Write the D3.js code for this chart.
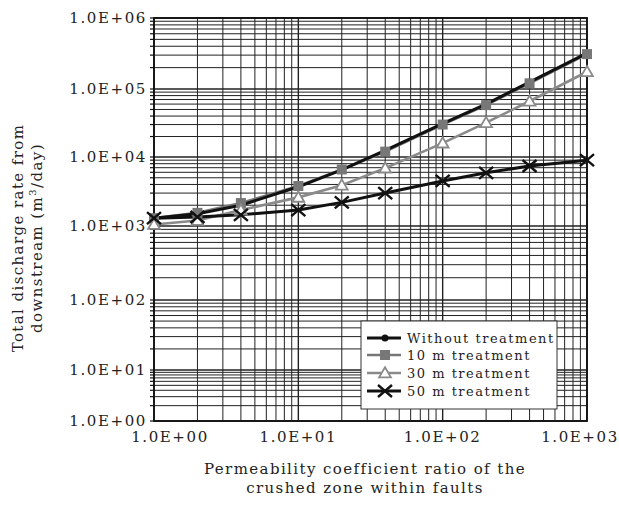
<!DOCTYPE html>
<html>
<head>
<meta charset="utf-8">
<script src="https://cdn.jsdelivr.net/npm/d3@7"></script>
<style>
  body { margin: 0; background: #fff; }
  text { font-family: "DejaVu Serif", "Liberation Serif", serif; fill: #222; }
</style>
</head>
<body>
<svg id="chart" width="619" height="505"></svg>
<script>
// valori
const ratios = [1, 2, 4, 10, 20, 40, 100, 200, 400, 1000];
const withoutTreatment = [1300, 1500, 2000, 3700, 6500, 12500, 31000, 60000, 125000, 320000];
const treat10 = [1300, 1550, 2150, 3800, 6600, 12000, 30000, 58000, 120000, 310000];
const treat30 = [1050, 1200, 1700, 2600, 3900, 6900, 16000, 32000, 66000, 175000];
const treat50 = [1300, 1350, 1450, 1700, 2200, 3000, 4500, 5900, 7400, 9000];
const xTicks = [1, 10, 100, 1000];
const yTicks = [1, 10, 100, 1000, 1e4, 1e5, 1e6];
const seriesNames = ["Without treatment", "10 m treatment", "30 m treatment", "50 m treatment"];

const svg = d3.select("#chart");
const pLeft = 154, pRight = 587, pTop = 18, pBottom = 421;

const x = d3.scaleLog().domain([1, 1000]).range([pLeft, pRight]);
// la scansione originale ha decadi non uniformi: scala a tratti
const y = d3.scaleLog().domain(yTicks).range([421, 370, 300, 226, 157, 89, pTop]);

function fmt(v) {
    const e = Math.round(Math.log10(v));
    return "1.0E+" + (e < 10 ? "0" + e : e);
}

function minors(lo, hi) {
    const out = [];
    for (let d = lo; d < hi; d *= 10)
        for (let k = 1; k < 10; k++) out.push(d * k);
    out.push(hi);
    return out;
}

const grid = svg.append("g");
grid.selectAll(".vg")
    .data(minors(1, 1000))
    .enter().append("line")
    .attr("x1", d => x(d)).attr("x2", d => x(d))
    .attr("y1", pTop).attr("y2", pBottom)
    .attr("stroke", "#222")
    .attr("stroke-width", d => xTicks.includes(d) ? 1.4 : 1);
grid.selectAll(".hg")
    .data(minors(1, 1e6))
    .enter().append("line")
    .attr("x1", pLeft).attr("x2", pRight)
    .attr("y1", d => y(d)).attr("y2", d => y(d))
    .attr("stroke", "#222")
    .attr("stroke-width", d => yTicks.includes(d) ? 1.4 : 1);

// tacche a sinistra
svg.append("g").selectAll("line")
    .data(minors(1, 1e6))
    .enter().append("line")
    .attr("x1", pLeft - 4).attr("x2", pLeft)
    .attr("y1", d => y(d)).attr("y2", d => y(d))
    .attr("stroke", "#111").attr("stroke-width", 1.2);

svg.append("rect")
    .attr("x", pLeft).attr("y", pTop)
    .attr("width", pRight - pLeft).attr("height", pBottom - pTop)
    .attr("fill", "none").attr("stroke", "#111").attr("stroke-width", 1.8);

// etichette assi
svg.append("g").selectAll("text")
    .data(yTicks)
    .enter().append("text")
    .attr("x", 147).attr("y", d => y(d))
    .attr("dy", "0.36em")
    .attr("text-anchor", "end")
    .style("font-size", "15px").style("letter-spacing", "1.6px")
    .text(fmt);

const xOff = {1: 16, 1000: -7};
svg.append("g").selectAll("text")
    .data(xTicks)
    .enter().append("text")
    .attr("x", d => x(d) + (xOff[d] || 0)).attr("y", 442)
    .attr("text-anchor", "middle")
    .style("font-size", "15px").style("letter-spacing", "1.6px")
    .text(fmt);

svg.append("text").attr("x", 365).attr("y", 474).attr("text-anchor", "middle")
    .style("font-size", "15px").style("letter-spacing", "1.4px")
    .text("Permeability coefficient ratio of the");
svg.append("text").attr("x", 365).attr("y", 493).attr("text-anchor", "middle")
    .style("font-size", "15px").style("letter-spacing", "1.4px")
    .text("crushed zone within faults");

const yl = svg.append("g").attr("transform", "translate(0,238) rotate(-90)");
yl.append("text").attr("x", 0).attr("y", 23).attr("text-anchor", "middle")
    .style("font-size", "15px").style("letter-spacing", "1.4px")
    .text("Total discharge rate from");
const l2 = yl.append("text").attr("x", 0).attr("y", 42).attr("text-anchor", "middle")
    .style("font-size", "15px").style("letter-spacing", "1.4px");
l2.append("tspan").text("downstream (m");
l2.append("tspan").attr("dy", "-6").style("font-size", "10px").text("3");
l2.append("tspan").attr("dy", "6").text("/day)");

// serie
const series = [
    {name: seriesNames[2], values: treat30, color: "#8a8a8a", width: 2.6, marker: "tri"},
    {name: seriesNames[1], values: treat10, color: "#777", width: 2.6, marker: "sq"},
    {name: seriesNames[0], values: withoutTreatment, color: "#111", width: 3, marker: "dot"},
    {name: seriesNames[3], values: treat50, color: "#111", width: 3, marker: "x"}
];

const line = d3.line().x(d => x(d[0])).y(d => y(d[1]));

function drawMarker(g, type, color) {
    if (type === "dot") {
        g.append("circle").attr("r", 3.5).attr("fill", color);
    } else if (type === "sq") {
        g.append("rect").attr("x", -5).attr("y", -5).attr("width", 10).attr("height", 10).attr("fill", color);
    } else if (type === "tri") {
        g.append("path").attr("d", d3.symbol(d3.symbolTriangle, 60)())
            .attr("transform", "translate(0,1)")
            .attr("fill", "#fff").attr("stroke", color).attr("stroke-width", 1.8);
    } else {
        g.append("path").attr("d", "M-7,-6L7,6M-7,6L7,-6")
            .attr("stroke", color).attr("stroke-width", 2.4);
    }
}

series.forEach(s => {
    svg.append("path")
        .datum(ratios.map((r, i) => [r, s.values[i]]))
        .attr("d", line)
        .attr("fill", "none")
        .attr("stroke", s.color)
        .attr("stroke-width", s.width);
});
[series[2], series[1], series[0], series[3]].forEach(s => {
    ratios.forEach((r, i) => {
        const g = svg.append("g").attr("transform", "translate(" + x(r) + "," + y(s.values[i]) + ")");
        drawMarker(g, s.marker, s.color);
    });
});

// legenda
const legend = svg.append("g");
legend.append("rect")
    .attr("x", 361).attr("y", 321).attr("width", 196).attr("height", 88)
    .attr("fill", "#fff").attr("stroke", "#333").attr("stroke-width", 1);
const legendOrder = [series[2], series[1], series[0], series[3]];
const rowY = [338, 355, 373, 391];
legendOrder.forEach((s, i) => {
    const row = legend.append("g").attr("transform", "translate(0," + rowY[i] + ")");
    row.append("line").attr("x1", 367).attr("x2", 401).attr("y1", 0).attr("y2", 0)
        .attr("stroke", s.color).attr("stroke-width", s.width);
    drawMarker(row.append("g").attr("transform", "translate(385,0)"), s.marker, s.color);
    row.append("text").attr("x", 407).attr("y", 0).attr("dy", "0.35em")
        .style("font-size", "13px").style("letter-spacing", "1.5px")
        .text(s.name);
});
</script>
</body>
</html>
